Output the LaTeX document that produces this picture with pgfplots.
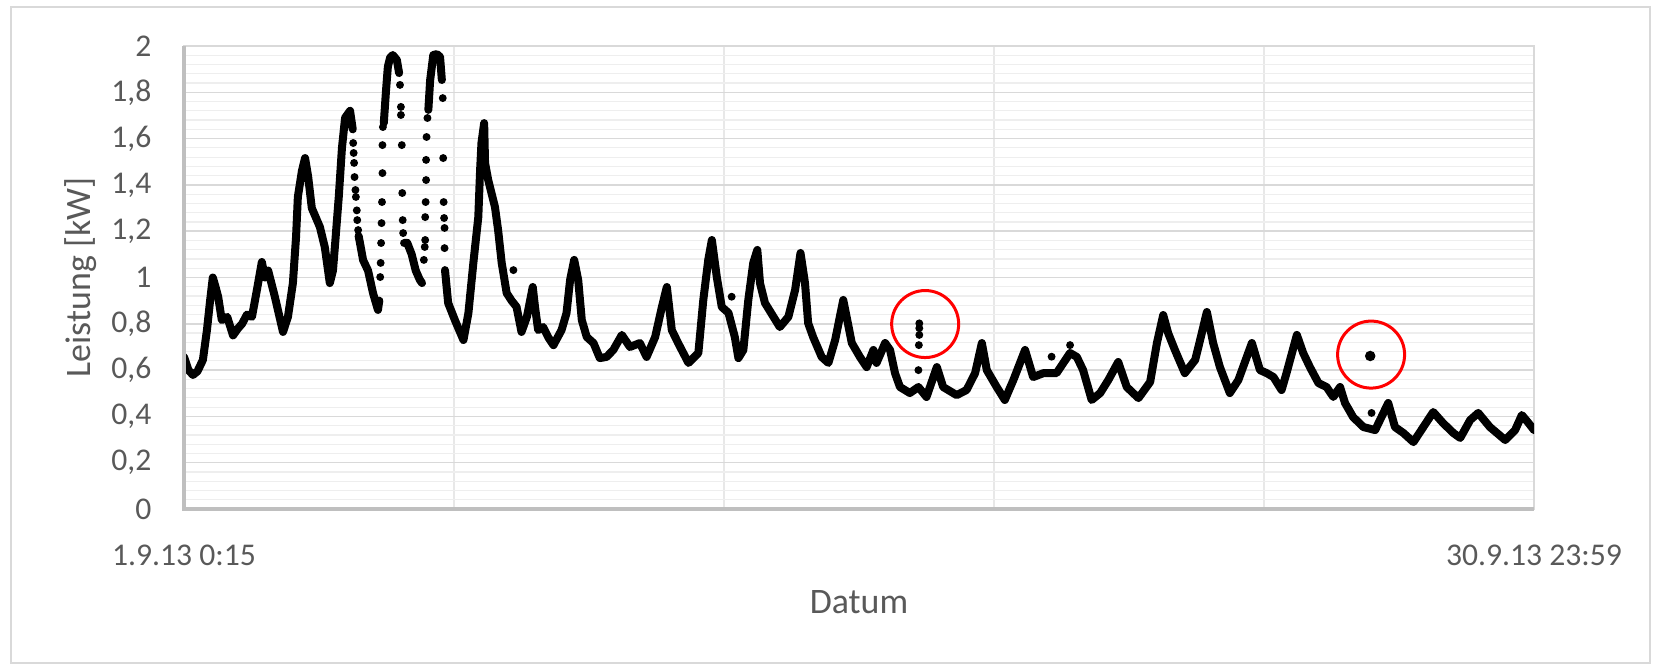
\documentclass[border=0pt]{standalone}
\usepackage{pgfplots}
\pgfplotsset{compat=1.18}
\usepackage{pgfplotstable}
\usepackage{fontspec}
\setmainfont{Carlito}
\definecolor{txt}{HTML}{595959}
\definecolor{gmaj}{HTML}{D9D9D9}
\definecolor{gmin}{HTML}{EEEEEE}
\definecolor{gvert}{HTML}{E8E8E8}
\definecolor{axgray}{HTML}{BFBFBF}

\pgfplotstableread{
x y
0.00 0.657
0.10 0.600
0.20 0.579
0.30 0.595
0.42 0.644
0.51 0.773
0.58 0.900
0.64 1.000
0.70 0.960
0.76 0.916
0.84 0.816
0.96 0.830
1.09 0.750
1.20 0.780
1.29 0.800
1.40 0.840
1.51 0.830
1.62 0.946
1.73 1.067
1.80 1.000
1.87 1.030
2.02 0.916
2.20 0.765
2.31 0.830
2.42 0.976
2.49 1.175
2.53 1.348
2.62 1.460
2.69 1.516
2.76 1.434
2.84 1.300
3.02 1.218
3.13 1.130
3.24 0.976
3.31 1.030
3.36 1.150
3.44 1.350
3.51 1.560
3.58 1.690
3.69 1.720
3.75 1.640
nan nan
3.88 1.180
3.91 1.150
3.98 1.075
4.09 1.030
4.20 0.933
4.31 0.860
4.34 0.900
nan nan
4.44 1.667
4.49 1.810
4.53 1.910
4.58 1.950
4.64 1.961
4.73 1.940
4.78 1.883
nan nan
4.89 1.149
4.96 1.150
5.06 1.100
5.15 1.030
5.24 0.990
5.29 0.976
nan nan
5.43 1.724
5.47 1.853
5.54 1.961
5.62 1.965
5.69 1.953
5.73 1.853
nan nan
5.80 1.032
5.87 0.890
6.02 0.816
6.21 0.730
6.32 0.846
6.43 1.063
6.54 1.261
6.58 1.464
6.61 1.581
6.67 1.667
6.69 1.495
6.76 1.421
6.91 1.305
6.98 1.205
7.06 1.063
7.17 0.933
7.28 0.900
7.39 0.873
7.50 0.765
7.62 0.830
7.75 0.959
7.80 0.873
7.87 0.773
7.98 0.786
8.10 0.740
8.21 0.708
8.39 0.773
8.50 0.846
8.58 0.989
8.67 1.076
8.76 0.989
8.84 0.816
8.95 0.743
9.10 0.717
9.24 0.652
9.39 0.657
9.54 0.687
9.73 0.752
9.91 0.700
10.13 0.717
10.28 0.657
10.47 0.743
10.62 0.873
10.73 0.959
10.84 0.773
10.98 0.717
11.21 0.631
11.43 0.674
11.54 0.903
11.65 1.076
11.73 1.162
11.84 1.002
11.95 0.873
12.10 0.847
12.24 0.743
12.32 0.652
12.43 0.687
12.54 0.903
12.65 1.063
12.74 1.119
12.80 0.976
12.91 0.890
13.10 0.830
13.24 0.786
13.43 0.830
13.58 0.946
13.70 1.106
13.80 0.976
13.87 0.803
13.98 0.743
14.17 0.657
14.32 0.631
14.47 0.730
14.65 0.903
14.84 0.717
15.02 0.657
15.17 0.613
15.32 0.687
15.39 0.631
15.58 0.717
15.69 0.687
15.80 0.587
15.91 0.527
16.13 0.501
16.32 0.527
16.50 0.484
16.73 0.613
16.87 0.527
17.17 0.492
17.39 0.514
17.58 0.587
17.73 0.717
17.84 0.600
18.06 0.527
18.24 0.471
18.43 0.557
18.69 0.687
18.87 0.570
19.10 0.587
19.39 0.587
19.69 0.674
19.84 0.657
19.98 0.600
20.17 0.471
20.36 0.501
20.54 0.557
20.76 0.635
20.95 0.527
21.21 0.479
21.47 0.549
21.62 0.717
21.76 0.838
21.87 0.760
22.02 0.687
22.24 0.587
22.47 0.644
22.58 0.730
22.73 0.851
22.87 0.717
23.02 0.613
23.24 0.501
23.43 0.557
23.73 0.717
23.91 0.600
24.06 0.587
24.21 0.570
24.39 0.514
24.50 0.587
24.73 0.752
24.87 0.674
25.02 0.613
25.21 0.544
25.39 0.527
25.54 0.484
25.69 0.527
25.80 0.458
25.98 0.397
26.21 0.354
26.47 0.341
26.76 0.458
26.91 0.354
27.10 0.328
27.32 0.289
27.54 0.354
27.76 0.419
27.98 0.371
28.21 0.328
28.36 0.307
28.58 0.384
28.76 0.415
29.02 0.354
29.36 0.298
29.58 0.341
29.73 0.406
29.88 0.371
30.00 0.341
}\mainline

\pgfplotstableread{
x y
3.76 1.581
3.77 1.538
3.78 1.495
3.79 1.434
3.81 1.378
3.82 1.348
3.84 1.290
3.85 1.248
3.87 1.205
4.36 1.002
4.37 1.063
4.38 1.149
4.39 1.235
4.40 1.326
4.41 1.451
4.41 1.572
4.42 1.650
4.80 1.832
4.82 1.737
4.82 1.702
4.84 1.572
4.85 1.365
4.86 1.248
4.87 1.192
5.33 1.076
5.35 1.132
5.36 1.162
5.36 1.261
5.37 1.326
5.38 1.421
5.38 1.508
5.39 1.607
5.41 1.689
5.75 1.775
5.76 1.516
5.77 1.326
5.78 1.257
5.79 1.214
5.79 1.127
7.32 1.032
12.17 0.917
16.34 0.802
16.34 0.781
16.34 0.752
16.33 0.708
16.32 0.600
19.28 0.658
19.69 0.708
26.39 0.415
}\dots

\begin{document}
\begin{tikzpicture}
\useasboundingbox (-18.4mm,-15.7mm) rectangle (147.7mm,50.9mm);
\draw[gmaj, line width=0.12mm] (-17.3mm,-15.4mm) rectangle (146.6mm,50.2mm);
\begin{axis}[
  name=ax,
  at={(0,0)}, anchor=south west,
  scale only axis, width=135mm, height=46.3mm,
  xmin=0, xmax=30, ymin=0, ymax=2,
  xtick={0,6,12,18,24,30},
  xticklabels={1.9.13 0:15,{},{},{},{},30.9.13 23:59},
  ytick={0,0.2,0.4,0.6,0.8,1,1.2,1.4,1.6,1.8,2},
  minor y tick num=4,
  major tick length=0pt, minor tick length=0pt,
  xmajorgrids, ymajorgrids, yminorgrids,
  major x grid style={gvert, line width=0.12mm},
  major y grid style={gmaj, line width=0.15mm},
  minor y grid style={gmin, line width=0.12mm},
  axis line style={gmaj, line width=0.2mm},
  /pgf/number format/use comma,
  /pgf/number format/assume math mode=true,
  tick label style={font=\fontsize{9}{11}\selectfont, text=txt},
  yticklabel style={anchor=east, inner sep=0pt, xshift=-3.2mm},
  xticklabel style={anchor=north, inner sep=0pt, yshift=-3.5mm},
  xlabel={Datum}, ylabel={Leistung [kW]},
  label style={font=\fontsize{10.2}{12}\selectfont, text=txt},
  xlabel style={at={(axis description cs:0.5,-0.202)}, anchor=center},
  ylabel style={at={(axis description cs:-0.0763,0.5)}, anchor=center},
  unbounded coords=jump,
]
\addplot[black, line width=0.8mm, line join=round, line cap=round] table[x=x,y=y] {\mainline};
\addplot[only marks, mark=*, mark size=0.32mm, black] table[x=x,y=y] {\dots};
\addplot[only marks, mark=*, mark size=0.45mm, black] coordinates {(26.36,0.661)};
\addplot[only marks, mark=o, mark size=3.35mm, red, mark options={line width=0.3mm}] coordinates {(16.47,0.799) (26.38,0.667)};
\end{axis}
\draw[axgray, line width=0.35mm] (ax.north west) -- (ax.south west) -- (ax.south east);
\end{tikzpicture}
\end{document}
